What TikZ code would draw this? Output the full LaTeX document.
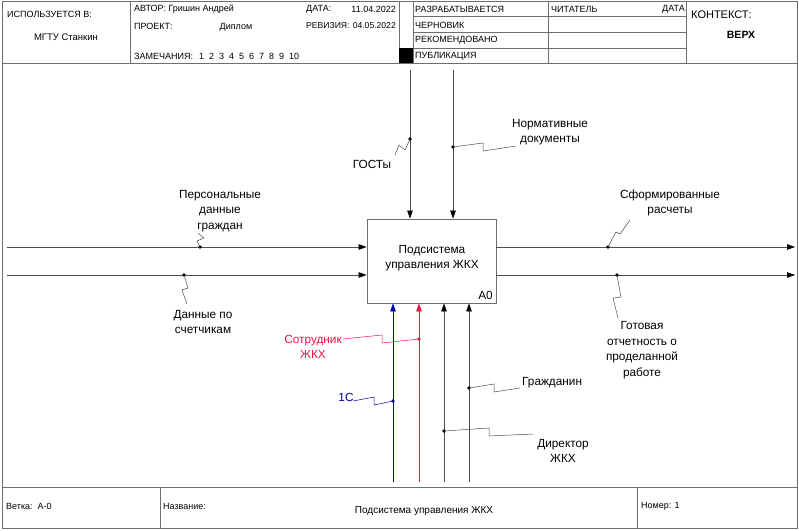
\documentclass[tikz,border=0pt]{standalone}
\usepackage{fontspec}
\setmainfont{Liberation Sans}
\usetikzlibrary{arrows.meta}
\definecolor{idefred}{RGB}{235,20,70}
\definecolor{idefblue}{RGB}{0,0,170}
\definecolor{framegray}{RGB}{110,110,110}
\begin{document}
\begin{tikzpicture}[x=1pt,y=-1pt,
  frame/.style={draw=framegray, line width=0.8pt},
  conn/.style={draw=black!70, line width=0.7pt},
  arr/.style={conn, -{Triangle[length=8pt,width=5.5pt,color=black]}},
  lbl/.style={font=\fontsize{11.8}{15.5}\selectfont, align=center, inner sep=0pt},
  hdr/.style={font=\fontsize{9}{10}\selectfont, anchor=west, inner sep=0pt},
  hdrc/.style={font=\fontsize{9}{10}\selectfont, inner sep=0pt},
  dotc/.style={circle, fill=black, inner sep=0pt, minimum size=3.6pt},
  squig/.style={draw=black!70, line width=0.5pt},
  ]
\useasboundingbox (0,0) rectangle (799,530);
\fill[white] (0,0) rectangle (799,530);
% ---------- frame ----------
\draw[frame] (2,1) rectangle (797,528);
\draw[frame] (2,63) -- (797,63);
\draw[frame] (2,487) -- (797,487);
\draw[frame] (130,1) -- (130,63);
\draw[frame] (399,1) -- (399,63);
\draw[frame] (413,1) -- (413,63);
\draw[frame] (548,1) -- (548,63);
\draw[frame] (686,1) -- (686,63);
\draw[frame] (413,16) -- (686,16);
\draw[frame] (413,32) -- (686,32);
\draw[frame] (399,48) -- (686,48);
\fill[black] (399,48) rectangle (413,63);
\draw[frame] (160,487) -- (160,528);
\draw[frame] (637,487) -- (637,528);
% ---------- header texts ----------
\node[hdr] (usedin) at (7,14) {ИСПОЛЬЗУЕТСЯ В:};
\node[hdrc, font=\fontsize{9.5}{11}\selectfont] (mgtu) at (66,37) {МГТУ Станкин};
\node[hdr] (author) at (134,9) {АВТОР: Гришин Андрей};
\node[hdr] (datelbl) at (306,9) {ДАТА:};
\node[hdrc, anchor=east] (dateval) at (396,9) {11.04.2022};
\node[hdr] (project) at (134,26) {ПРОЕКТ:};
\node[hdrc] (diplom) at (236,27) {Диплом};
\node[hdr, font=\fontsize{8.6}{10}\selectfont] (revision) at (306,26) {РЕВИЗИЯ:};
\node[hdrc, anchor=east, font=\fontsize{8.6}{10}\selectfont] (revval) at (396,26) {04.05.2022};
\node[hdr] (notes) at (134,56) {ЗАМЕЧАНИЯ:\hspace{6pt}1\hspace{5pt}2\hspace{5pt}3\hspace{5pt}4\hspace{5pt}5\hspace{5pt}6\hspace{5pt}7\hspace{5pt}8\hspace{5pt}9\hspace{5pt}10};
\node[hdr] (working) at (415,9) {РАЗРАБАТЫВАЕТСЯ};
\node[hdr] (draft) at (415,25) {ЧЕРНОВИК};
\node[hdr] (recom) at (415,40) {РЕКОМЕНДОВАНО};
\node[hdr] (publ) at (415,56) {ПУБЛИКАЦИЯ};
\node[hdr] (reader) at (551,9) {ЧИТАТЕЛЬ};
\node[hdrc, anchor=east] (rdate) at (685,9) {ДАТА};
\node[hdr, font=\fontsize{11}{12}\selectfont] (context) at (691,15) {КОНТЕКСТ:};
\node[hdrc, font=\bfseries\fontsize{10.5}{12}\selectfont] (top) at (741,35) {ВЕРХ};
% ---------- footer texts ----------
\node[hdr] (node) at (6,506) {Ветка:\hspace{5pt}A-0};
\node[hdr] (title) at (163,506) {Название:};
\node[hdrc, font=\fontsize{10}{12}\selectfont] (titleval) at (424,511) {Подсистема управления ЖКХ};
\node[hdr] (number) at (641,506) {Номер: 1};
% ---------- activity box ----------
\node[draw=framegray, line width=0.8pt, minimum width=129pt, minimum height=84pt, inner sep=0pt] (A0) at (431.5,261) {};
\node[lbl] (A0t) at (432,258) {Подсистема\\управления ЖКХ};
\node[lbl, anchor=east] (A0n) at (493,295) {A0};
% ---------- inputs ----------
\coordinate (in1) at (7,247);
\coordinate (in2) at (7,275);
\draw[arr] (in1) -- (in1 -| A0.west);
\draw[arr] (in2) -- (in2 -| A0.west);
% ---------- controls ----------
\coordinate (c1) at (410,70);
\coordinate (c2) at (453,70);
\draw[arr] (c1) -- (c1 |- A0.north);
\draw[arr] (c2) -- (c2 |- A0.north);
% ---------- outputs ----------
\coordinate (o1) at (795,247);
\coordinate (o2) at (795,275);
\draw[arr] (o1 -| A0.east) -- (o1);
\draw[arr] (o2 -| A0.east) -- (o2);
% ---------- mechanisms ----------
\coordinate (m1) at (393,482);
\coordinate (m2) at (419,482);
\coordinate (m3) at (444,482);
\coordinate (m4) at (469,482);
\draw[draw=idefblue, line width=0.6pt, -{Triangle[length=8pt,width=5.5pt]}] (m1) -- (m1 |- A0.south);
\draw[draw=idefred, line width=0.6pt, -{Triangle[length=8pt,width=5.5pt]}] (m2) -- (m2 |- A0.south);
\draw[arr] (m3) -- (m3 |- A0.south);
\draw[arr] (m4) -- (m4 |- A0.south);
% ---------- labels and squiggles ----------
% inputs
\node[dotc] (d1) at (200,247) {};
\node[lbl] (l1) at (220,211) {Персональные\\данные\\граждан};
\draw[squig] (d1.center) -- (197,241) -- (204,238) -- (198,233);
\node[dotc] (d2) at (184,275) {};
\node[lbl] (l2) at (203,322) {Данные по\\счетчикам};
\draw[squig] (d2.center) -- (188,288) -- (182,290) -- (187,304);
% controls
\node[dotc] (d3) at (410,139) {};
\node[lbl] (l3) at (372,164) {ГОСТы};
\draw[squig] (d3.center) -- (405,150) -- (399,145) -- (395,155);
\node[dotc] (d4) at (453,147) {};
\node[lbl] (l4) at (550,132) {Нормативные\\документы};
\draw[squig] (d4.center) -- (483,143) -- (483,151) -- (516,146);
% outputs
\node[dotc] (d5) at (608,247) {};
\node[lbl] (l5) at (670,203) {Сформированные\\расчеты};
\draw[squig] (d5.center) -- (616,232) -- (620,234) -- (630,220);
\node[dotc] (d6) at (617,275) {};
\node[lbl] (l6) at (642,350) {Готовая\\отчетность о\\проделанной\\работе};
\draw[squig] (d6.center) -- (621,297) -- (613,298) -- (618,318);
% mechanisms
\node[dotc, fill=idefred] (d7) at (419,339) {};
\node[lbl, text=idefred] (l7) at (313,347) {Сотрудник\\ЖКХ};
\draw[squig, draw=idefred] (d7.center) -- (382,343) -- (382,335) -- (343,339);
\node[dotc, fill=idefblue] (d8) at (393,401) {};
\node[lbl, text=idefblue] (l8) at (346,397) {1C};
\draw[squig, draw=idefblue] (d8.center) -- (374,405) -- (374,397) -- (353,401);
\node[dotc] (d9) at (469,388) {};
\node[lbl, anchor=west] (l9) at (522,383) {Гражданин};
\draw[squig] (d9.center) -- (494,384) -- (494,392) -- (520,388);
\node[dotc] (d10) at (444,431) {};
\node[lbl] (l10) at (563,451) {Директор\\ЖКХ};
\draw[squig] (d10.center) -- (489,428) -- (489,436) -- (533,434);
\end{tikzpicture}
\end{document}
